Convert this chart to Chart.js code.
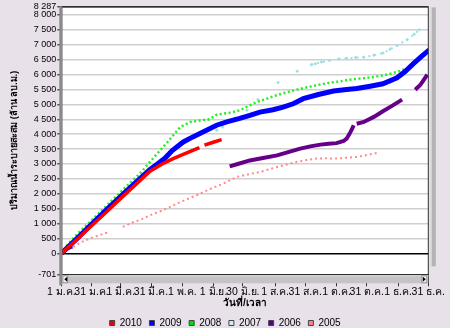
<!DOCTYPE html>
<html>
<head>
<meta charset="utf-8">
<script src="https://cdn.jsdelivr.net/npm/chart.js@4.4.1/dist/chart.umd.min.js"></script>
<style>
  html, body { margin: 0; padding: 0; background: #e8e1ea; }
  #wrap { width: 450px; height: 328px; position: relative; }
</style>
</head>
<body>
<div id="wrap"><canvas id="c" width="450" height="328"></canvas></div>
<script>
// ---- data (day of year, cumulative release in million m3) ----
const seriesNames = ['2010', '2009', '2008', '2007', '2006', '2005'];

const days2010 = [0, 15, 30, 45, 60, 75, 88, 100, 111, 125, 137, 140, 142, 150, 159];
const vals2010 = [0, 450, 930, 1400, 1880, 2350, 2760, 3000, 3180, 3380, 3550, null, 3630, 3720, 3815];

const days2009 = [0, 15, 30, 45, 60, 75, 88, 96, 103, 110, 121, 130, 138, 154, 165, 177, 187, 197, 210, 220, 230, 240, 255, 270, 283, 293, 305, 319, 333, 341, 349, 357, 365];
const vals2009 = [0, 480, 980, 1470, 1950, 2420, 2820, 3020, 3200, 3450, 3740, 3900, 4030, 4300, 4420, 4530, 4630, 4740, 4820, 4910, 5020, 5190, 5330, 5450, 5500, 5530, 5600, 5690, 5890, 6100, 6360, 6600, 6830];

const days2008 = [12, 13, 5, 18, 30, 45, 60, 78, 90, 98, 105, 111, 118, 128, 138, 147, 154, 167, 177, 187, 194, 203, 210, 220, 232, 245, 253, 265, 276, 286, 300, 310, 319, 328, 336, 340];
const vals2008 = [60, null, 250, 720, 1110, 1600, 2100, 2680, 3150, 3460, 3720, 3960, 4240, 4410, 4460, 4500, 4650, 4720, 4800, 4970, 5080, 5180, 5270, 5370, 5480, 5580, 5640, 5720, 5770, 5830, 5880, 5920, 5970, 6040, 6120, 6180];

const days2007 = [0, 20, 40, 60, 80, 95, 104, 120, 154, 160, 170, 184, 190, 195, 205, 215, 225, 234, 240, 248, 252, 258, 266, 270, 275, 283, 292, 300, 310, 319, 326, 333, 343, 350, 355];
const vals2007 = [0, 620, 1250, 1880, 2500, 2950, 3290, null, 4130, 4240, null, 4800, null, 5160, null, 5730, null, 6115, null, 6330, 6360, 6420, 6470, null, 6520, 6550, 6570, 6580, 6650, 6720, 6850, 6975, 7170, 7350, 7500];

const days2006 = [2, 5, 8, 11, 100, 167, 175, 187, 200, 214, 225, 237, 247, 257, 265, 273, 280, 283, 286, 288, 290, 291, 293, 300, 310, 319, 328, 338, 345, 351, 356, 360, 363];
const vals2006 = [60, 150, 200, 230, null, 2920, 3000, 3120, 3200, 3290, 3400, 3515, 3590, 3650, 3680, 3700, 3770, 3850, 4020, 4150, 4300, null, 4350, 4410, 4580, 4770, 4950, 5160, null, 5490, 5650, 5850, 6000];

const days2005 = [3, 12, 20, 30, 40, 48, 55, 61, 70, 80, 88, 100, 108, 115, 125, 138, 150, 160, 167, 174, 185, 197, 210, 222, 233, 243, 253, 263, 273, 283, 293, 303, 313];
const vals2005 = [60, 220, 380, 520, 640, 720, null, 890, 1030, 1150, 1280, 1440, 1560, 1680, 1820, 2010, 2200, 2330, 2450, 2565, 2650, 2730, 2860, 2970, 3070, 3130, 3180, 3190, 3180, 3210, 3235, 3300, 3370];

const xTickDays = [0, 30, 59, 89, 120, 151, 180, 212, 242, 273, 303, 334, 364];
const xTickLabels = ['1 ม.ค.', '31 ม.ค.', '1 มี.ค.', '31 มี.ค.', '1 พ.ค.', '1 มิ.ย.', '30 มิ.ย.', '1 ส.ค.', '31 ส.ค.', '1 ต.ค.', '31 ต.ค.', '1 ธ.ค.', '31 ธ.ค.'];
const yTickValues = [-701, 0, 500, 1000, 1500, 2000, 2500, 3000, 3500, 4000, 4500, 5000, 5500, 6000, 6500, 7000, 7500, 8000, 8287];

const xTitle = 'วันที่/เวลา';
const yTitle = 'ปริมาณน้ำระบายสะสม (ล้าน ลบ.ม.)';

// ---- build ----
const pts = (d, v) => d.map((x, i) => ({ x: x, y: v[i] }));
const fmt = v => (v < 0 ? '-' : '') + String(Math.abs(v)).replace(/\B(?=(\d{3})+(?!\d))/g, ' ');

Chart.defaults.font.family = "'Liberation Sans', Arial, 'DejaVu Sans', sans-serif";
Chart.defaults.font.size = 9;
Chart.defaults.color = '#000';

const styles = {
  '2010': { c: '#ff0000', w: 3.5, dash: [], pr: 0 },
  '2009': { c: '#0000ff', w: 5, dash: [], pr: 0 },
  '2008': { c: '#22ee22', w: 2.5, dash: [2, 2.5], pr: 0 },
  '2007': { c: '#9ddfe8', w: 2, dash: [2, 4], pr: 1.5 },
  '2006': { c: '#660088', w: 4, dash: [], pr: 0 },
  '2005': { c: '#ff8a8a', w: 2, dash: [2, 3], pr: 0 }
};
const legendFill = { '2010': '#ee0000', '2009': '#0000ee', '2008': '#00dd00', '2007': '#c8f0f4', '2006': '#550088', '2005': '#ff8080' };
const dataMap = {
  '2010': pts(days2010, vals2010), '2009': pts(days2009, vals2009), '2008': pts(days2008, vals2008),
  '2007': pts(days2007, vals2007), '2006': pts(days2006, vals2006), '2005': pts(days2005, vals2005)
};

const datasets = seriesNames.map(n => ({
  label: n,
  data: dataMap[n],
  borderColor: styles[n].c,
  backgroundColor: styles[n].c,
  borderWidth: styles[n].w,
  borderDash: styles[n].dash,
  pointRadius: styles[n].pr,
  pointStyle: 'cross',
  pointBorderWidth: 1.5,
  borderCapStyle: 'butt',
  tension: 0,
  spanGaps: false,
  fill: false
}));

const plotBg = {
  id: 'plotBg',
  afterLayout(chart) {
    // centre the legend under the plot area as in the original
    const lg = chart.legend;
    if (lg) { lg.left += 11; lg.right += 11; }
  },
  beforeDraw(chart) {
    const { ctx, chartArea: a } = chart;
    ctx.save();
    ctx.fillStyle = '#ffffff';
    ctx.fillRect(a.left, a.top, a.right - a.left, a.bottom - a.top);
    ctx.restore();
  }
};

const scrollbars = {
  id: 'scrollbars',
  afterDraw(chart) {
    const { ctx, chartArea: a } = chart;
    ctx.save();
    ctx.strokeStyle = '#303030';
    ctx.lineWidth = 1;
    ctx.strokeRect(a.left + 0.5, a.top + 0.5, a.right - a.left - 0.5, a.bottom - a.top);
    ctx.fillStyle = '#8a8a8a';
    ctx.fillRect(a.left - 2, a.top, 3, a.bottom - a.top + 11);
    const hy = a.bottom + 1;
    ctx.fillStyle = '#c4c4c4';
    ctx.fillRect(a.left + 1, hy, a.right - a.left - 1, 8);
    ctx.fillStyle = '#e0e0e0';
    ctx.fillRect(a.left + 1, hy, a.right - a.left - 1, 1);
    ctx.fillStyle = '#ececec';
    ctx.fillRect(a.left + 1, hy, 6, 8);
    ctx.fillRect(a.right - 7, hy, 6, 8);
    ctx.strokeStyle = '#909090';
    ctx.strokeRect(a.left + 1.5, hy + 0.5, 5, 7);
    ctx.strokeRect(a.right - 6.5, hy + 0.5, 5, 7);
    ctx.fillStyle = '#000';
    ctx.beginPath();
    ctx.moveTo(a.left + 3, hy + 4); ctx.lineTo(a.left + 6, hy + 1.5); ctx.lineTo(a.left + 6, hy + 6.5); ctx.fill();
    ctx.beginPath();
    ctx.moveTo(a.right - 2.5, hy + 4); ctx.lineTo(a.right - 5.5, hy + 1.5); ctx.lineTo(a.right - 5.5, hy + 6.5); ctx.fill();
    const vx = a.right + 2.5;
    ctx.fillStyle = '#b4b4b4';
    ctx.fillRect(vx, a.top + 1, 5, a.bottom - a.top - 9);
    ctx.fillStyle = '#dcdcdc';
    ctx.fillRect(vx, a.top + 1, 1, a.bottom - a.top - 9);
    ctx.restore();
  }
};

new Chart(document.getElementById('c'), {
  type: 'line',
  data: { datasets },
  plugins: [plotBg, scrollbars],
  options: {
    responsive: false,
    animation: false,
    layout: { padding: { top: 6, right: 21.7, left: 0, bottom: -10 } },
    plugins: {
      tooltip: { enabled: false },
      legend: {
        position: 'bottom',
        labels: {
          boxWidth: 5, boxHeight: 5, padding: 7.5, font: { size: 10 },
          generateLabels: chart => chart.data.datasets.map((d, i) => ({
            text: d.label, fillStyle: legendFill[d.label], strokeStyle: '#444', lineWidth: 1,
            lineDash: [], hidden: false, datasetIndex: i
          }))
        }
      }
    },
    scales: {
      x: {
        type: 'linear', min: 0, max: 364,
        afterFit: s => { s.height = 36.2; },
        afterBuildTicks: s => { s.ticks = xTickDays.map(v => ({ value: v })); },
        ticks: {
          autoSkip: false, maxRotation: 0, padding: 0, color: '#000', font: { size: 10.5 },
          callback: (v, i) => xTickLabels[i]
        },
        grid: { drawOnChartArea: false, drawTicks: true, tickLength: 12, color: '#303030' },
        border: { display: false },
        title: { display: true, text: xTitle, font: { size: 10, weight: 'bold' }, padding: { top: 0, bottom: 1 }, color: '#000' }
      },
      y: {
        type: 'linear', min: -701, max: 8287,
        afterFit: s => { s.width = 61.3; },
        afterBuildTicks: s => { s.ticks = yTickValues.map(v => ({ value: v })); },
        ticks: { autoSkip: false, padding: 1, color: '#000', font: { size: 9 }, callback: v => fmt(v) },
        grid: {
          tickLength: 4,
          lineWidth: 1.5,
          color: ctx => {
            const v = ctx.tick ? ctx.tick.value : null;
            if (v === 0) return '#000';
            if (v === -701 || v === 8287) return '#303030';
            return '#d0d0d0';
          },
          tickColor: '#505050'
        },
        border: { display: false },
        title: { display: true, text: yTitle, font: { size: 9, weight: 'bold' }, padding: { top: 9, bottom: 0 }, color: '#000' }
      }
    }
  }
});
</script>
</body>
</html>
